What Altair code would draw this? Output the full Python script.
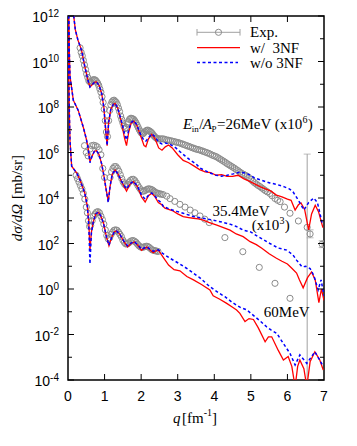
import altair as alt
import pandas as pd

# ---------------- data (q in fm^-1, log10 of dsigma/dOmega in mb/sr) ----------------
# 26 MeV (x10^6)
R26 = [(0.12,12.5),(0.20,11.4),(0.27,10.95),(0.37,10.5),(0.46,9.77),(0.55,9.15),(0.60,8.88),(0.66,8.98),
       (0.72,9.08),(0.78,9.10),(0.85,8.95),(0.92,8.60),(0.98,8.00),(1.03,7.00),(1.07,6.30),(1.11,7.30),
       (1.17,7.90),(1.24,8.12),(1.29,8.15),(1.36,7.95),(1.45,7.40),(1.55,6.60),(1.60,6.30),(1.66,6.90),
       (1.73,7.30),(1.80,7.38),(1.88,7.20),(1.97,6.80),(2.08,6.30),(2.13,6.25),(2.20,6.60),(2.29,6.80),
       (2.38,6.60),(2.48,6.20),(2.57,6.10),(2.66,6.25),(2.75,6.33),(2.85,6.20),(3.00,5.90),(3.15,5.65),
       (3.30,5.55),(3.45,5.40),(3.60,5.25),(3.75,5.15),(3.90,5.12),(4.05,5.00),(4.20,5.03),(4.35,4.95),
       (4.50,4.95),(4.65,5.00),(4.80,4.85),(4.98,4.72),(5.10,4.62),(5.25,4.50),(5.40,4.40),(5.55,4.30),
       (5.70,4.13),(5.85,4.05),(6.00,3.95),(6.10,3.90),(6.21,3.47),(6.30,3.70),(6.37,3.78),(6.47,3.50),
       (6.58,2.60),(6.66,3.30),(6.76,3.68),(6.85,3.40),(6.97,2.70)]
B26 = [(0.12,12.5),(0.20,11.4),(0.27,10.95),(0.37,10.5),(0.46,9.77),(0.55,9.15),(0.60,8.88),(0.66,8.98),
       (0.72,9.08),(0.78,9.10),(0.85,8.95),(0.92,8.60),(0.98,8.00),(1.03,7.00),(1.07,6.30),(1.11,7.30),
       (1.17,7.90),(1.24,8.12),(1.29,8.15),(1.36,7.95),(1.45,7.45),(1.55,6.80),(1.60,6.55),(1.66,7.00),
       (1.73,7.32),(1.80,7.40),(1.88,7.22),(1.97,6.85),(2.08,6.52),(2.13,6.50),(2.20,6.65),(2.29,6.82),
       (2.38,6.70),(2.48,6.45),(2.57,6.38),(2.66,6.42),(2.79,6.36),(2.95,6.20),(3.06,6.04),(3.20,5.85),
       (3.34,5.67),(3.50,5.50),(3.61,5.32),(3.75,5.20),(3.88,5.10),(4.05,5.00),(4.20,4.96),(4.35,5.00),
       (4.50,5.05),(4.70,5.14),(4.85,5.10),(4.98,5.01),(5.10,4.88),(5.25,4.80),(5.40,4.72),(5.52,4.66),
       (5.70,4.60),(5.90,4.50),(6.05,4.40),(6.15,4.28),(6.30,3.90),(6.45,3.47),(6.58,3.80),(6.72,4.00),
       (6.82,3.80),(6.95,2.90)]
E26 = [(0.33,10.6),(0.36,10.4),(0.39,10.25),(0.42,10.05),(0.45,9.85),(0.48,9.65),(0.51,9.45),(0.54,9.3),
       (0.57,9.15),(0.60,9.1),(0.63,9.1),(0.66,9.15),(0.69,9.2),(0.72,9.2),(0.75,9.18),(0.78,9.12),
       (0.81,9.05),(0.84,8.95),(0.87,8.8),(0.90,8.65),(0.93,8.45),(0.96,8.2),(0.99,7.9),(1.02,7.4),
       (1.05,6.9),(1.08,6.7),(1.11,7.4),(1.14,7.85),(1.17,8.1),(1.20,8.22),(1.23,8.28),(1.26,8.3),
       (1.29,8.25),(1.32,8.2),(1.35,8.1),(1.38,7.95),(1.41,7.8),(1.44,7.6),(1.47,7.45),(1.50,7.3),
       (1.53,7.15),(1.56,7.05),(1.59,7.1),(1.62,7.25),(1.65,7.35),(1.68,7.45),(1.71,7.5),(1.74,7.5),
       (1.77,7.48),(1.80,7.45),(1.83,7.38),(1.86,7.3),(1.89,7.2),(1.92,7.1),(1.95,7.0),(1.98,6.92),
       (2.01,6.85),(2.04,6.82),(2.07,6.85),(2.10,6.9),(2.13,6.95),(2.16,6.98),(2.19,6.98),(2.22,6.95),
       (2.25,6.92),(2.28,6.88),(2.31,6.82),(2.34,6.75),(2.37,6.7),(2.40,6.65),(2.43,6.62),(2.46,6.6),
       (2.50,6.6),(2.55,6.6),(2.60,6.6),(2.65,6.58),(2.70,6.55),(2.75,6.54),(2.80,6.52),(2.85,6.5),
       (2.90,6.48),(2.95,6.46),(3.00,6.44),(3.05,6.42),(3.10,6.39),(3.15,6.36),(3.20,6.33),(3.25,6.3),
       (3.30,6.27),(3.35,6.24),(3.40,6.21),(3.45,6.18),(3.50,6.15),(3.55,6.13),(3.60,6.11),(3.65,6.08),
       (3.70,6.05),(3.75,6.02),(3.80,5.99),(3.85,5.96),(3.90,5.92),(3.95,5.88),(4.00,5.85),(4.05,5.82),
       (4.10,5.77),(4.15,5.72),(4.20,5.67),(4.25,5.62),(4.30,5.57),(4.35,5.51),(4.40,5.46),(4.45,5.41),
       (4.50,5.36),(4.55,5.31),(4.60,5.25),(4.65,5.2),(4.70,5.14),(4.75,5.08),(4.80,5.04),(4.85,5.0),
       (4.90,4.95),(4.95,4.89),(5.00,4.82),(5.05,4.74),(5.10,4.67),(5.15,4.61),(5.20,4.55),(5.25,4.5),
       (5.30,4.44),(5.35,4.38),(5.40,4.32),(5.45,4.27),(5.52,4.2),(5.58,4.1),(5.66,3.98),(5.73,3.9),
       (5.80,3.84),(5.92,3.6),(6.07,3.33),(6.30,2.99),(6.54,2.71),(6.62,2.42),(6.95,1.97)]

# 35.4 MeV (x10^3)
R35 = [(0.02,12.5),(0.035,10.5),(0.055,9.35),(0.145,8.3),(0.28,7.85),(0.42,7.1),(0.50,6.6),(0.55,6.2),
       (0.60,5.6),(0.66,5.85),(0.72,6.05),(0.78,6.08),(0.85,5.9),(0.92,5.5),(0.98,5.0),(1.04,4.4),
       (1.10,3.85),(1.15,4.5),(1.21,5.05),(1.29,5.23),(1.37,5.05),(1.47,4.7),(1.60,4.3),(1.69,4.6),
       (1.79,4.72),(1.90,4.5),(2.01,4.05),(2.11,3.82),(2.20,4.1),(2.29,4.21),(2.38,4.05),(2.47,3.8),
       (2.55,3.72),(2.65,3.55),(2.75,3.5),(2.85,3.45),(3.00,3.3),(3.15,3.18),(3.30,3.14),(3.43,3.11),
       (3.56,3.08),(3.70,3.03),(3.85,2.93),(4.07,2.81),(4.25,2.70),(4.43,2.59),(4.60,2.42),(4.79,2.30),
       (4.98,2.08),(5.15,1.95),(5.30,1.79),(5.50,1.55),(5.70,1.35),(5.85,1.22),(6.00,1.10),(6.12,0.91),
       (6.25,0.70),(6.33,0.40),(6.43,0.05),(6.55,0.50),(6.66,0.75),(6.76,0.40),(6.86,-0.60),(6.93,0.0),
       (7.0,-0.5)]
B35 = [(0.02,12.5),(0.035,10.5),(0.055,9.35),(0.145,8.3),(0.28,7.85),(0.42,7.1),(0.50,6.6),(0.55,6.2),
       (0.60,5.55),(0.66,5.85),(0.72,6.05),(0.78,6.08),(0.85,5.9),(0.92,5.5),(0.98,5.0),(1.04,4.4),
       (1.10,3.8),(1.15,4.5),(1.21,5.05),(1.29,5.23),(1.37,5.05),(1.47,4.72),(1.60,4.4),(1.69,4.62),
       (1.79,4.73),(1.90,4.52),(2.01,4.12),(2.11,3.95),(2.20,4.12),(2.29,4.22),(2.38,4.08),(2.47,3.9),
       (2.55,3.8),(2.61,3.62),(2.80,3.5),(3.00,3.4),(3.15,3.33),(3.40,3.2),(3.70,3.11),(3.90,3.05),
       (4.16,2.96),(4.43,2.85),(4.60,2.75),(4.80,2.58),(4.98,2.52),(5.20,2.3),(5.52,2.0),(5.75,1.8),
       (5.98,1.71),(6.15,1.5),(6.25,1.27),(6.40,0.97),(6.50,1.0),(6.62,0.9),(6.72,0.6),(6.84,-0.04),
       (6.92,0.4),(7.0,-0.3)]
E35 = [(0.45,6.3),(0.50,6.0),(0.55,5.85),(0.60,6.15),(0.65,6.3),(0.70,6.32),(0.75,6.3),(0.80,6.25),
       (0.85,6.12),(0.90,5.9),(0.95,5.3),(1.00,4.9),(1.15,4.9),(1.19,5.15),(1.23,5.3),(1.27,5.38),
       (1.31,5.38),(1.35,5.3),(1.39,5.18),(1.43,5.02),(1.47,4.85),(1.51,4.7),(1.55,4.6),(1.59,4.55),
       (1.63,4.6),(1.67,4.7),(1.71,4.78),(1.75,4.82),(1.79,4.82),(1.83,4.76),(1.87,4.66),(1.91,4.55),
       (1.95,4.45),(1.99,4.36),(2.03,4.3),(2.07,4.3),(2.11,4.33),(2.15,4.37),(2.19,4.4),(2.23,4.4),
       (2.27,4.38),(2.31,4.35),(2.35,4.3),(2.39,4.25),(2.43,4.22),(2.47,4.2),(2.51,4.18),(2.55,4.17),
       (2.60,4.15),(2.70,4.08),(2.79,3.97),(2.92,3.85),(3.06,3.72),(3.20,3.6),(3.34,3.47),(3.47,3.35),
       (3.61,3.21),(3.74,3.07),(3.86,2.92),(4.29,2.26),(4.78,1.64),(5.23,0.95),(5.66,0.25),(6.07,-0.41)]

# 60 MeV
R60 = [(0.005,12.5),(0.02,9.5),(0.04,7.5),(0.055,6.5),(0.10,5.4),(0.24,5.09),(0.33,4.79),(0.46,4.21),
       (0.53,3.62),(0.57,2.9),(0.60,1.7),(0.64,2.5),(0.69,2.95),(0.76,3.3),(0.83,3.38),(0.90,3.2),
       (0.97,2.9),(1.05,2.3),(1.12,1.9),(1.20,2.3),(1.27,2.52),(1.33,2.55),(1.42,2.4),(1.52,2.1),
       (1.63,1.85),(1.72,2.0),(1.82,2.07),(1.92,1.9),(2.01,1.7),(2.08,1.78),(2.16,1.84),(2.25,1.7),
       (2.33,1.6),(2.41,1.68),(2.47,1.71),(2.60,1.40),(2.75,1.05),(2.90,0.85),(3.06,0.8),(3.25,0.55),
       (3.43,0.40),(3.65,0.2),(3.88,-0.04),(3.97,-0.3),(4.15,-0.45),(4.34,-0.63),(4.50,-0.8),(4.61,-0.92),
       (4.70,-1.07),(4.84,-1.43),(4.95,-1.3),(5.07,-1.34),(5.20,-1.7),(5.39,-2.32),(5.48,-2.1),(5.57,-2.1),
       (5.75,-2.7),(5.89,-3.12),(6.02,-2.97),(6.12,-3.4),(6.21,-4.3),(6.28,-3.4),(6.34,-3.12),(6.45,-3.5),
       (6.53,-4.3),(6.62,-3.2),(6.75,-2.76),(6.88,-3.1),(6.98,-3.56)]
B60 = [(0.005,12.5),(0.02,9.5),(0.04,7.5),(0.055,6.5),(0.10,5.4),(0.24,5.09),(0.33,4.79),(0.46,4.21),
       (0.53,3.62),(0.57,2.7),(0.60,1.1),(0.64,2.45),(0.69,2.95),(0.76,3.3),(0.83,3.38),(0.90,3.2),
       (0.97,2.9),(1.05,2.3),(1.12,1.92),(1.20,2.3),(1.27,2.52),(1.33,2.55),(1.42,2.4),(1.52,2.12),
       (1.63,1.9),(1.72,2.02),(1.82,2.08),(1.92,1.92),(2.01,1.75),(2.08,1.8),(2.16,1.85),(2.25,1.74),
       (2.33,1.66),(2.41,1.7),(2.47,1.72),(2.60,1.55),(2.79,1.35),(3.06,1.1),(3.30,0.85),(3.60,0.5),
       (3.88,0.1),(4.10,-0.15),(4.29,-0.34),(4.50,-0.6),(4.70,-0.8),(4.89,-0.92),(5.10,-1.2),(5.25,-1.4),
       (5.43,-1.66),(5.55,-1.8),(5.71,-1.95),(5.85,-2.3),(6.07,-2.83),(6.21,-3.34),(6.34,-2.9),(6.53,-3.27),
       (6.75,-2.76),(6.98,-3.4)]
E60 = [(0.22,5.0),(0.26,4.85),(0.30,4.7),(0.34,4.55),(0.38,4.4),(0.42,4.2),(0.46,3.95),(0.50,3.6),
       (0.53,3.35),(0.56,3.0),(0.59,2.75),(0.62,2.8),(0.66,3.0),(0.70,3.2),(0.74,3.3),(0.78,3.38),
       (0.82,3.4),(0.86,3.35),(0.90,3.2),(0.94,3.05),(0.98,2.85),(1.02,2.6),(1.06,2.35),(1.10,2.2),
       (1.14,2.25),(1.18,2.4),(1.22,2.5),(1.26,2.58),(1.30,2.6),(1.34,2.58),(1.38,2.5),(1.42,2.4),
       (1.46,2.3),(1.50,2.15),(1.54,2.05),(1.58,1.98),(1.62,1.98),(1.66,2.02),(1.70,2.08),(1.74,2.12),
       (1.78,2.13),(1.82,2.1),(1.86,2.05),(1.90,1.97),(1.94,1.9),(1.98,1.85),(2.02,1.83),(2.06,1.84),
       (2.10,1.86),(2.14,1.88),(2.18,1.87),(2.22,1.83),(2.26,1.77),(2.30,1.72),(2.34,1.7),(2.38,1.68),
       (2.42,1.67),(2.46,1.65)]

# error bars: (q, log10 low, log10 high)
ERR = [(6.54, -5.0, 5.93), (6.62, 2.25, 2.6), (6.95, 1.82, 2.12)]

Y_MAJOR = [12, 10, 8, 6, 4, 2, 0, -2, -4]
Y_MINOR = [11, 9, 7, 5, 3, 1, -1, -3]
X_TICKS = [0, 1, 2, 3, 4, 5, 6, 7]

# ---------------- build ----------------
W, H = 256, 364
xs = alt.Scale(domain=[0, 7], nice=False, zero=False)
ys = alt.Scale(type="log", domain=[1e-4, 1e12], nice=False)
SERIF = "Liberation Serif"
SANS = "Liberation Sans"
GREY = "#8c8c8c"


def cdf(pairs, name):
    return pd.DataFrame({"q": [p[0] for p in pairs], "y": [10.0 ** p[1] for p in pairs], "c": name})


X = alt.X("q:Q", scale=xs, axis=None)
Y = alt.Y("y:Q", scale=ys, axis=None)

exp_df = pd.concat([cdf(E26, "26"), cdf(E35, "35"), cdf(E60, "60")])
red_df = pd.concat([cdf(R26, "26"), cdf(R35, "35"), cdf(R60, "60")])
blue_df = pd.concat([cdf(B26, "26"), cdf(B35, "35"), cdf(B60, "60")])
err_df = pd.DataFrame({"q": [e[0] for e in ERR], "lo": [10.0 ** e[1] for e in ERR],
                       "hi": [10.0 ** e[2] for e in ERR]})

layers = []

# error bars
layers.append(alt.Chart(err_df).mark_rule(color="#a0a0a0", strokeWidth=1, clip=True).encode(
    x=X, y=alt.Y("lo:Q", scale=ys, axis=None), y2="hi:Q"))
for f in ["lo", "hi"]:
    layers.append(alt.Chart(err_df).mark_tick(orient="horizontal", size=7, thickness=1,
                                               color="#a0a0a0", clip=True).encode(
        x=X, y=alt.Y(f + ":Q", scale=ys, axis=None)))

# experimental points
layers.append(alt.Chart(exp_df).mark_point(shape="circle", filled=False, size=38, color=GREY,
                                           strokeWidth=1, opacity=1, clip=True).encode(x=X, y=Y))

# theory
layers.append(alt.Chart(red_df).mark_line(color="#ff0000", strokeWidth=1.3, clip=True).encode(
    x=X, y=Y, detail="c:N", order="q:Q"))
layers.append(alt.Chart(blue_df).mark_line(color="#0000ff", strokeWidth=1.5, strokeDash=[3, 2.5],
                                           clip=True).encode(x=X, y=Y, detail="c:N", order="q:Q"))

# ticks (inward)
ymaj = pd.DataFrame({"y": [10.0 ** e for e in Y_MAJOR], "e": [str(e) for e in Y_MAJOR]})
ymin = pd.DataFrame({"y": [10.0 ** e for e in Y_MINOR]})
xt = pd.DataFrame({"q": X_TICKS[1:-1]})
for df, L in [(ymaj, 6), (ymin, 4)]:
    layers.append(alt.Chart(df).mark_rule(color="black", strokeWidth=1).encode(
        y=Y, x=alt.value(0), x2=alt.value(L)))
    layers.append(alt.Chart(df).mark_rule(color="black", strokeWidth=1).encode(
        y=Y, x=alt.value(W), x2=alt.value(W - L)))
layers.append(alt.Chart(xt).mark_rule(color="black", strokeWidth=1).encode(
    x=X, y=alt.value(H), y2=alt.value(H - 6)))
layers.append(alt.Chart(xt).mark_rule(color="black", strokeWidth=1).encode(
    x=X, y=alt.value(0), y2=alt.value(6)))

# y tick labels: "10" + superscript exponent
for sel, off in [(["12", "10"], 11.1), (["8", "6", "4", "2", "0"], 5.6), (["-2", "-4"], 8.9)]:
    layers.append(alt.Chart(ymaj[ymaj.e.isin(sel)]).mark_text(
        align="right", baseline="alphabetic", font=SANS, fontSize=14, dy=6, color="black").encode(
        y=Y, x=alt.value(-9 - off), text=alt.value("10")))
layers.append(alt.Chart(ymaj).mark_text(align="right", baseline="alphabetic", font=SANS, fontSize=10,
                                        dy=0.5, color="black").encode(y=Y, x=alt.value(-9), text="e:N"))
# x tick labels
xl = pd.DataFrame({"q": X_TICKS, "t": [str(v) for v in X_TICKS]})
layers.append(alt.Chart(xl).mark_text(align="center", baseline="alphabetic", font=SANS, fontSize=14,
                                      color="black").encode(x=X, y=alt.value(385), text="t:N"))


def txt(s, x, y, size=15, italic=False, align="left", angle=0, baseline="alphabetic", font=SERIF):
    kw = dict(align=align, baseline=baseline, font=font, fontSize=size, color="black")
    if italic:
        kw["fontStyle"] = "italic"
    if angle:
        kw["angle"] = angle
    return alt.Chart(pd.DataFrame({"t": [s]})).mark_text(**kw).encode(
        x=alt.value(x), y=alt.value(y), text="t:N")


one = pd.DataFrame({"k": [0]})
# legend (pixel positions relative to plot origin)
layers.append(alt.Chart(one).mark_rule(color="#a0a0a0", strokeWidth=1).encode(
    x=alt.value(129), x2=alt.value(172), y=alt.value(16.3)))
for xx in [129, 172]:
    layers.append(alt.Chart(one).mark_rule(color="#a0a0a0", strokeWidth=1).encode(
        x=alt.value(xx), y=alt.value(13), y2=alt.value(19.6)))
layers.append(alt.Chart(one).mark_point(shape="circle", filled=False, size=38, color=GREY,
                                        strokeWidth=1, opacity=1).encode(
    x=alt.value(150.5), y=alt.value(16.3)))
layers.append(alt.Chart(one).mark_rule(color="#ff0000", strokeWidth=1.3).encode(
    x=alt.value(129), x2=alt.value(172), y=alt.value(31.7)))
layers.append(alt.Chart(one).mark_rule(color="#0000ff", strokeWidth=1.5, strokeDash=[3, 2.5]).encode(
    x=alt.value(129), x2=alt.value(170), y=alt.value(46.5)))
layers.append(txt("Exp.", 182, 21))
layers.append(txt("w/\u00a0\u00a03NF", 182, 37))
layers.append(txt("w/o 3NF", 182, 52))

# annotations
layers.append(txt("E", 115, 113, italic=True))
layers.append(txt("in", 123.8, 116, size=9))
layers.append(txt("/", 131.2, 113))
layers.append(txt("A", 134.8, 113, italic=True))
layers.append(txt("P", 143.4, 116, size=9))
layers.append(txt("=26MeV (x10", 149, 113))
layers.append(txt("6", 234.6, 107, size=10))
layers.append(txt(")", 239.8, 113))

layers.append(txt("35.4MeV", 173, 200, align="center"))
layers.append(txt("(x10", 183.7, 214))
layers.append(txt("3", 211.5, 208, size=10))
layers.append(txt(")", 216.8, 214))
layers.append(txt("60MeV", 218.7, 301, align="center"))

# axis titles
layers.append(txt("q", 105, 407, italic=True))
layers.append(txt("[fm", 114, 407))
layers.append(txt("-1", 135.7, 400, size=10))
layers.append(txt("]", 144, 407))
layers.append(txt("d\u03c3/d\u03a9", -51, 206.5, italic=True, align="center", angle=270, baseline="middle"))
layers.append(txt("[mb/sr]", -51, 161, align="center", angle=270, baseline="middle"))

chart = alt.layer(*layers).properties(
    width=W, height=H,
    autosize=alt.AutoSizeParams(type="none"),
    padding={"left": 60, "top": 8, "right": 25, "bottom": 52},
).configure_view(stroke="black", strokeWidth=1.5)

chart.save("out.html", embed_options={"renderer": "svg", "actions": False})
